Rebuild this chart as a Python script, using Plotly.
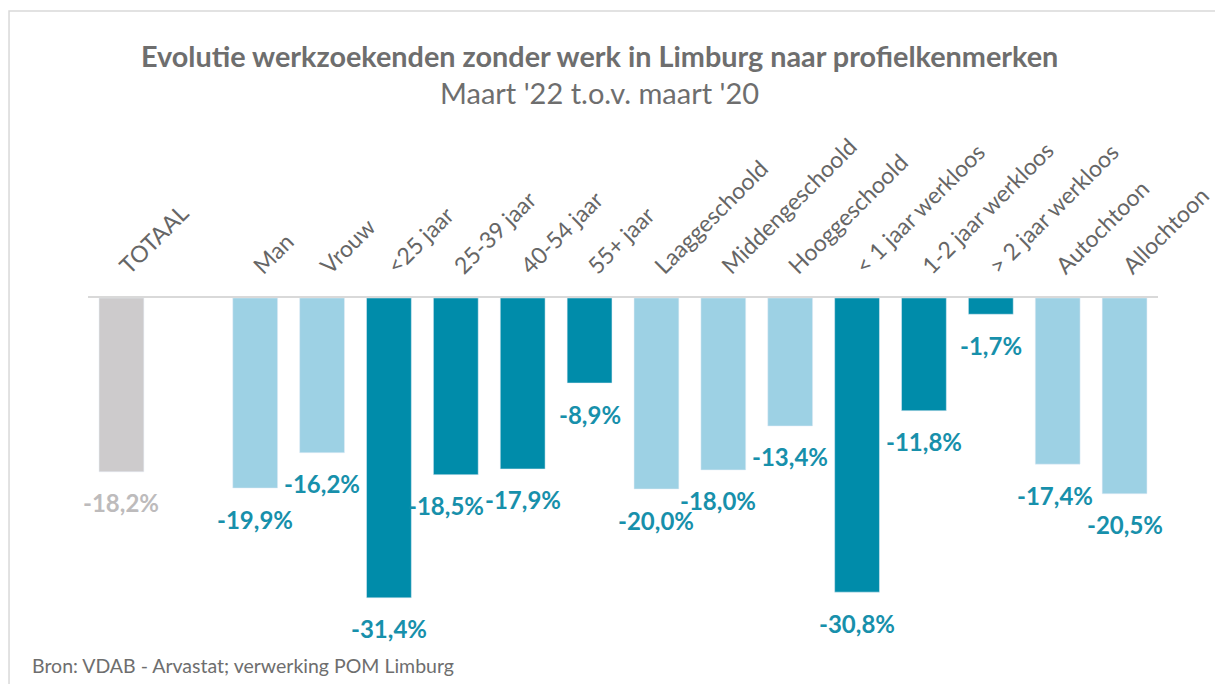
import plotly.graph_objects as go

# data
categories = ["TOTAAL", "", "Man", "Vrouw", "<25 jaar", "25-39 jaar", "40-54 jaar", "55+ jaar",
              "Laaggeschoold", "Middengeschoold", "Hooggeschoold", "< 1 jaar werkloos",
              "1-2 jaar werkloos", "> 2 jaar werkloos", "Autochtoon", "Allochtoon"]
values = [-18.2, None, -19.9, -16.2, -31.4, -18.5, -17.9, -8.9,
          -20.0, -18.0, -13.4, -30.8, -11.8, -1.7, -17.4, -20.5]
groups = ["totaal", None, "licht", "licht", "donker", "donker", "donker", "donker",
          "licht", "licht", "licht", "donker", "donker", "donker", "licht", "licht"]

GRIJS = "#CDCBCC"
LICHT = "#9DD1E4"
DONKER = "#008CAA"
bar_colors = {"totaal": GRIJS, "licht": LICHT, "donker": DONKER, None: "rgba(0,0,0,0)"}
label_colors = {"totaal": "#BDBBBC", "licht": "#1790AB", "donker": "#1790AB", None: "#000"}

# small manual nudges of the data labels, like in the original
label_xshift = [0, 0, 0, 0, 0, -10, 0, 0, 0, -5, 0, 0, 0, 0, -3, 0]

xpos = list(range(len(categories)))
font = "Lato, 'Open Sans', sans-serif"

fig = go.Figure()
fig.add_trace(go.Bar(
    x=xpos, y=values,
    marker_color=[bar_colors[g] for g in groups],
    width=0.67,
    hoverinfo="skip",
))

annotations = []
for i, v in enumerate(values):
    if v is None:
        continue
    annotations.append(dict(
        x=i, y=v, xref="x", yref="y",
        text=f"{v:.1f}%".replace(".", ","),
        showarrow=False, yshift=-31, xshift=label_xshift[i],
        font=dict(family=font, size=24, color=label_colors[groups[i]], weight="bold"),
    ))

# title, subtitle, source
annotations += [
    dict(text="<b>Evolutie werkzoekenden zonder werk in Limburg naar profielkenmerken</b>",
         xref="paper", yref="paper", x=0.4776, y=1.634, yanchor="middle", showarrow=False,
         font=dict(family=font, size=28.8, color="#6E6E6E")),
    dict(text="Maart '22 t.o.v. maart '20",
         xref="paper", yref="paper", x=0.4785, y=1.537, yanchor="middle", showarrow=False,
         font=dict(family=font, size=29, color="#6E6E6E")),
    dict(text="Bron: VDAB - Arvastat; verwerking POM Limburg",
         xref="paper", yref="paper", x=-0.0542, y=0.039, xanchor="left", yanchor="middle",
         showarrow=False, font=dict(family=font, size=19.5, color="#6E6E6E")),
]

fig.update_layout(
    width=1215, height=684,
    margin=dict(l=88, r=57, t=298, b=4, autoexpand=False),
    paper_bgcolor="white", plot_bgcolor="white",
    showlegend=False,
    annotations=annotations,
    shapes=[dict(type="rect", xref="paper", yref="paper",
                 x0=-0.0738, x1=1.2, y0=-0.05, y1=1.751,
                 line=dict(color="#D9D9D9", width=1.5))],
    xaxis=dict(
        side="top", range=[-0.5, len(categories) - 0.5],
        tickvals=xpos, ticktext=categories, tickangle=-45,
        tickfont=dict(family=font, size=23, color="#666666"),
        ticks="outside", ticklen=8, tickcolor="rgba(0,0,0,0)",
        ticklabeloverflow="allow",
        showline=True, linecolor="#D9D9D9", linewidth=2,
        showgrid=False, zeroline=False, automargin=False,
    ),
    yaxis=dict(range=[-40, 0], visible=False, showgrid=False, zeroline=False,
               automargin=False),
)

# no default page margin around the figure, no toolbar
fig.write_html("out.html", config={"displayModeBar": False},
               post_script="document.body.style.margin='0';document.body.style.overflow='hidden';")
